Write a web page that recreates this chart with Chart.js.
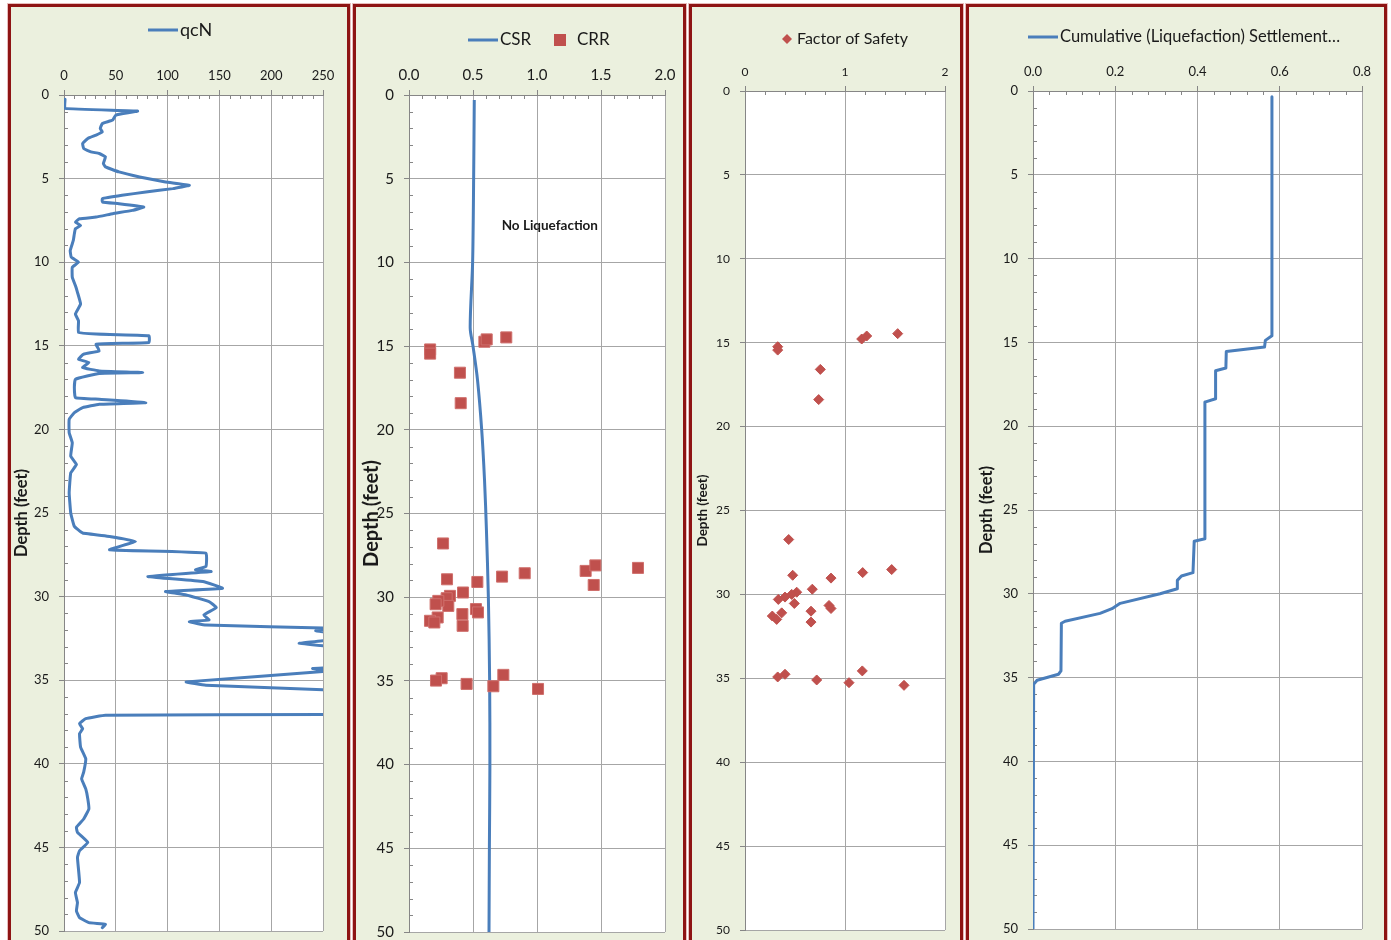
<!DOCTYPE html>
<html>
<head>
<meta charset="utf-8">
<script src="https://cdn.jsdelivr.net/npm/chart.js@4.4.1/dist/chart.umd.min.js"></script>
<style>
  html, body { margin: 0; padding: 0; background: #fff; width: 1391px; height: 940px; overflow: hidden; }
  .panel { position: absolute; top: 4px; height: 954px; box-sizing: border-box; background: #ebf0de;
           border: 3px solid #8e1414; box-shadow: 0 0 0 1px #e8bcbc; }
  .panel canvas { display: block; }
</style>
</head>
<body>
<div class="panel" style="left:8px;width:342px"><canvas id="qcnChart"></canvas></div>
<div class="panel" style="left:353px;width:333px"><canvas id="csrChart"></canvas></div>
<div class="panel" style="left:689px;width:274px"><canvas id="fsChart"></canvas></div>
<div class="panel" style="left:966px;width:421px"><canvas id="settleChart"></canvas></div>

<script>
// depth axis (feet), shared by all four panels
const depthTicks = [0, 5, 10, 15, 20, 25, 30, 35, 40, 45, 50];

// qcN profile
const qcnDepth = [0.26, 0.8, 0.96, 1.2, 1.5, 1.7, 2.0, 2.2, 2.4, 2.6, 2.9, 3.2, 3.4, 3.5, 3.7, 4.1, 4.3, 4.6, 4.9, 5.2,
  5.4, 5.6, 5.8, 6.0, 6.2, 6.4, 6.5, 6.7, 6.9, 7.1, 7.3, 7.4, 7.6, 7.8, 8.0, 8.3, 8.7, 9.3, 9.7, 10.0,
  10.3, 10.9, 11.4, 11.8, 12.5, 13.1, 13.5, 14.2, 14.3, 14.4, 14.8, 14.9, 15.3, 15.5, 15.8, 16.0, 16.3, 16.5, 16.6, 16.65,
  17.0, 17.5, 18.1, 18.2, 18.4, 18.5, 18.7, 19.0, 19.4, 20.2, 20.8, 21.6, 22.1, 22.6, 23.8, 25.0, 25.8, 26.2, 26.4, 26.7,
  27.2, 27.4, 28.2, 28.4, 28.5, 28.8, 29.1, 29.5, 29.7, 29.9, 30.3, 30.65, 31.1, 31.4, 31.5, 31.7, 31.9, 32.05, 32.2, 32.6,
  32.8, 33.0, 33.2, 34.1, 34.3, 34.45, 35.1, 35.3, 35.6, 35.9, 36.9, 37.05, 37.1, 37.3, 37.6, 37.9, 38.2, 39.0, 39.7, 40.5,
  40.9, 41.5, 42.1, 42.7, 43.3, 43.8, 44.1, 44.7, 45.2, 45.6, 47.1, 47.7, 48.3, 48.8, 49.2, 49.5, 49.6, 49.8];
const qcnValue = [1, 1, 71, 50, 47, 37, 35, 37, 31, 23, 18, 19, 26, 34, 40, 38, 40, 53, 73, 98,
  121, 105, 79, 56, 37, 37, 53, 77, 66, 47, 31, 15, 11, 16, 11, 10, 9, 6, 7, 14,
  8, 8, 11, 13, 16, 11, 14, 14, 31, 82, 82, 31, 34, 19, 14, 24, 18, 34, 76, 34,
  11, 10, 11, 34, 79, 34, 18, 10, 5, 5, 8, 6.5, 12, 6.5, 5, 6.5, 10, 18, 44, 69,
  44, 137, 137, 127, 142, 81, 134, 153, 98, 118, 140, 147, 135, 140, 121, 137, 260, 243, 262, 255,
  227, 260, 300, 300, 240, 256, 118, 137, 262, 320, 320, 252, 40, 21, 15, 18, 15, 16, 21, 19,
  17, 21, 23, 24, 19, 12, 13, 23, 15, 13, 15, 11, 13, 12, 15, 24, 40, 37];

// CSR curve and CRR points
const csrDepth = [0.3, 5, 10, 13.9, 15, 17, 20, 23, 26, 30, 35, 40, 45, 50];
const csrValue = [0.51, 0.505, 0.497, 0.478, 0.50, 0.535, 0.568, 0.59, 0.605, 0.62, 0.63, 0.632, 0.628, 0.625];
const crrDepth = [15.2, 15.45, 14.74, 14.6, 14.48, 16.59, 18.41, 26.79, 28.93, 29.09, 28.77, 28.57, 28.43, 28.1, 29.27,
  28.25, 29.72, 29.92, 30.06, 30.52, 30.22, 30.42, 30.71, 30.91, 31.01, 31.71, 31.21, 31.41, 31.51, 34.84,
  34.98, 35.18, 34.64, 35.32, 35.48];
const crrValue = [0.165, 0.165, 0.589, 0.607, 0.76, 0.398, 0.404, 0.266, 0.297, 0.534, 0.727, 0.904, 1.38, 1.456, 1.443,
  1.789, 0.422, 0.32, 0.294, 0.307, 0.229, 0.208, 0.523, 0.539, 0.417, 0.419, 0.224, 0.164, 0.198, 0.255,
  0.211, 0.45, 0.737, 0.659, 1.008];

// factor of safety points
const fsDepth = [15.24, 15.44, 14.78, 14.6, 14.46, 16.59, 18.39, 26.73, 28.86, 29.03, 28.7, 28.52, 29.69, 29.87, 30.0,
  30.16, 30.3, 30.54, 30.66, 30.84, 31.0, 31.65, 31.1, 31.29, 31.49, 34.92, 34.76, 35.1, 34.56, 35.26, 35.42];
const fsValue = [0.327, 0.327, 1.167, 1.217, 1.527, 0.753, 0.737, 0.437, 0.477, 0.86, 1.177, 1.467, 0.673, 0.517, 0.467,
  0.4, 0.333, 0.493, 0.84, 0.86, 0.66, 0.66, 0.367, 0.273, 0.317, 0.327, 0.4, 0.717, 1.173, 1.04, 1.59];

// cumulative settlement
const settleDepth = [0.34, 14.6, 14.88, 15.28, 15.54, 16.53, 16.69, 18.36, 18.56, 26.72, 26.86, 28.74, 28.94, 29.2, 29.7,
  30.0, 30.57, 30.89, 31.17, 31.64, 31.76, 34.6, 34.8, 35.16, 35.4, 50];
const settleValue = [0.581, 0.581, 0.565, 0.563, 0.47, 0.469, 0.444, 0.444, 0.418, 0.418, 0.392, 0.389, 0.361, 0.351, 0.351,
  0.309, 0.212, 0.192, 0.163, 0.078, 0.069, 0.068, 0.062, 0.01, 0.0016, 0];

// x tick labels
const qcnTicks = [0, 50, 100, 150, 200, 250];
const ratioTicks = [0, 0.5, 1.0, 1.5, 2.0];
const fsTicks = [0, 1, 2];
const settleTicks = [0, 0.2, 0.4, 0.6, 0.8];

const FONT = 'Lato, "Open Sans", sans-serif';
const INK = '#1a1a1a';
const BLUE = '#4a7ebb';
const RED = '#c0504d';
const GRID = '#a6a6a6';
const AXIS = '#868686';
const CANVAS_H = 944;

const pts = (xs, ds) => xs.map((v, i) => ({ x: v, y: ds[i] }));

// white plot area, minor ticks, note text and the legend row
const decor = {
  id: 'decor',
  beforeDraw(chart) {
    const { ctx, chartArea: a } = chart;
    ctx.save();
    ctx.fillStyle = '#fff';
    ctx.fillRect(a.left, a.top, a.right - a.left, a.bottom - a.top);
    ctx.restore();
  },
  beforeDatasetsDraw(chart, args, o) {
    const { ctx, chartArea: a, scales: { x, y } } = chart;
    const isMajor = (v, m) => Math.abs(v / m - Math.round(v / m)) < 1e-6;
    ctx.save();
    ctx.strokeStyle = AXIS;
    ctx.lineWidth = 1;
    ctx.beginPath();
    if (o.xMinor) {
      for (let i = 1; i * o.xMinor < x.max - 1e-9; i++) {
        const v = i * o.xMinor;
        if (isMajor(v, o.xMajor)) continue;
        const px = Math.round(x.getPixelForValue(v)) + 0.5;
        ctx.moveTo(px, a.top); ctx.lineTo(px, a.top + 4);
      }
    }
    if (o.yMinor) {
      for (let v = o.yMinor; v < y.max; v += o.yMinor) {
        if (isMajor(v, 5)) continue;
        const py = Math.round(y.getPixelForValue(v)) + 0.5;
        ctx.moveTo(a.left, py); ctx.lineTo(a.left + 4, py);
      }
    }
    ctx.stroke();
    if (o.note) {
      ctx.fillStyle = INK;
      ctx.font = 'bold 13.5px ' + FONT;
      ctx.textAlign = 'center';
      ctx.textBaseline = 'middle';
      ctx.fillText(o.note.text, x.getPixelForValue(o.note.x), y.getPixelForValue(o.note.y));
    }
    ctx.restore();
  },
  afterDraw(chart, args, o) {
    const { ctx } = chart;
    const key = o.key;
    ctx.save();
    ctx.font = key.size + 'px ' + FONT;
    ctx.textBaseline = 'middle';
    ctx.textAlign = 'left';
    key.items.forEach(it => {
      let tx;
      if (it.kind === 'line') {
        ctx.strokeStyle = BLUE; ctx.lineWidth = 3;
        ctx.beginPath(); ctx.moveTo(it.at, key.y); ctx.lineTo(it.at + 30, key.y); ctx.stroke();
        tx = it.at + 32;
      } else if (it.kind === 'rect') {
        ctx.fillStyle = RED;
        ctx.fillRect(it.at, key.y - 6, 12, 12);
        tx = it.at + 23;
      } else {
        ctx.fillStyle = RED;
        ctx.beginPath();
        ctx.moveTo(it.at, key.y - 5); ctx.lineTo(it.at + 5, key.y);
        ctx.lineTo(it.at, key.y + 5); ctx.lineTo(it.at - 5, key.y);
        ctx.closePath(); ctx.fill();
        tx = it.at + 10;
      }
      ctx.fillStyle = INK;
      ctx.fillText(it.text, tx, key.y);
    });
    ctx.restore();
  }
};

function makeChart(id, box, spec) {
  const canvas = document.getElementById(id);
  canvas.width = box.w;
  canvas.height = CANVAS_H;
  const ar = box.area;
  const xTicks = spec.xTicks;
  const tickFont = { family: FONT, size: spec.tickSize };
  const chart = new Chart(canvas, {
    type: 'scatter',
    data: { datasets: spec.datasets },
    options: {
      responsive: false,
      animation: false,
      events: [],
      layout: { padding: { left: box.padL, top: 0, right: box.w - ar.r, bottom: CANVAS_H - ar.b } },
      plugins: { legend: { display: false }, tooltip: { enabled: false }, decor: spec.decor },
      scales: {
        x: {
          type: 'linear', position: 'top',
          min: xTicks[0], max: xTicks[xTicks.length - 1],
          afterFit: s => { s.height = ar.t; },
          afterBuildTicks: s => { s.ticks = xTicks.map(v => ({ value: v })); },
          ticks: { padding: spec.xPad, color: INK, font: tickFont, maxRotation: 0, autoSkip: false,
                   callback: v => spec.xDigits ? Number(v).toFixed(spec.xDigits) : String(v) },
          grid: { color: GRID, tickColor: AXIS, tickLength: 5 },
          border: { color: AXIS }
        },
        y: {
          type: 'linear', reverse: true, min: 0, max: 50,
          afterFit: s => { s.width = ar.l - box.padL; },
          afterBuildTicks: s => { s.ticks = depthTicks.map(v => ({ value: v })); },
          ticks: { padding: 10, color: INK, font: { family: FONT, size: spec.yTickSize || spec.tickSize } },
          title: { display: true, text: 'Depth (feet)', color: INK, padding: 0,
                   font: { family: FONT, size: spec.titleSize, weight: 'bold' } },
          grid: { color: GRID, tickColor: AXIS, tickLength: 5 },
          border: { color: AXIS }
        }
      }
    },
    plugins: [decor]
  });
  // nudge the plot box onto its spot if the layout moved it
  const pad = chart.options.layout.padding;
  const dr = chart.chartArea.right - ar.r;
  const db = chart.chartArea.bottom - ar.b;
  if (Math.abs(dr) > 0.5 || Math.abs(db) > 0.5) {
    pad.right += dr;
    pad.bottom += db;
    chart.update('none');
  }
  return chart;
}

makeChart('qcnChart',
  { w: 336, padL: 1, area: { l: 53, r: 312, t: 88, b: 924 } },
  {
    xTicks: qcnTicks, tickSize: 13, titleSize: 16.5, xPad: 6,
    datasets: [{
      label: 'qcN', data: pts(qcnValue, qcnDepth), showLine: true,
      borderColor: BLUE, borderWidth: 3, pointRadius: 0, tension: 0.1,
      borderJoinStyle: 'round', borderCapStyle: 'round'
    }],
    decor: { xMinor: 10, xMajor: 50, yMinor: 1,
             key: { y: 23, size: 18, items: [{ kind: 'line', at: 137, text: 'qcN' }] } }
  });

makeChart('csrChart',
  { w: 327, padL: 4, area: { l: 53, r: 309, t: 88, b: 927 } },
  {
    xTicks: ratioTicks, xDigits: 1, tickSize: 15, titleSize: 20, xPad: 6,
    datasets: [{
      label: 'CSR', data: pts(csrValue, csrDepth), showLine: true, order: 2,
      borderColor: BLUE, borderWidth: 3, pointRadius: 0, tension: 0.3
    }, {
      label: 'CRR', data: pts(crrValue, crrDepth), order: 1,
      pointStyle: 'rect', pointRadius: 7.8, backgroundColor: RED, borderColor: '#cf6f6c', borderWidth: 1
    }],
    decor: { xMinor: 0.1, xMajor: 0.5, yMinor: 1,
             note: { text: 'No Liquefaction', x: 1.1, y: 7.8 },
             key: { y: 33, size: 17, items: [{ kind: 'line', at: 112, text: 'CSR' }, { kind: 'rect', at: 198, text: 'CRR' }] } }
  });

makeChart('fsChart',
  { w: 268, padL: 3, area: { l: 53, r: 253, t: 84, b: 923 } },
  {
    xTicks: fsTicks, tickSize: 12, titleSize: 13.5, xPad: 7,
    datasets: [{
      label: 'Factor of Safety', data: pts(fsValue, fsDepth),
      pointStyle: 'rectRot', pointRadius: 5, backgroundColor: RED, borderColor: RED, borderWidth: 1
    }],
    decor: { xMinor: 0.2, xMajor: 1,
             key: { y: 32, size: 16, items: [{ kind: 'diamond', at: 95, text: 'Factor of Safety' }] } }
  });

makeChart('settleChart',
  { w: 415, padL: 8, area: { l: 64, r: 393, t: 84, b: 922 } },
  {
    xTicks: settleTicks, xDigits: 1, tickSize: 13, titleSize: 16.5, xPad: 6,
    datasets: [{
      label: 'Cumulative (Liquefaction) Settlement…', data: pts(settleValue, settleDepth), showLine: true,
      borderColor: BLUE, borderWidth: 3, pointRadius: 0, tension: 0, borderJoinStyle: 'round'
    }],
    decor: { xMinor: 0.04, xMajor: 0.2, yMinor: 1,
             key: { y: 30, size: 16.5, items: [{ kind: 'line', at: 59, text: 'Cumulative (Liquefaction) Settlement…' }] } }
  });
</script>
</body>
</html>
